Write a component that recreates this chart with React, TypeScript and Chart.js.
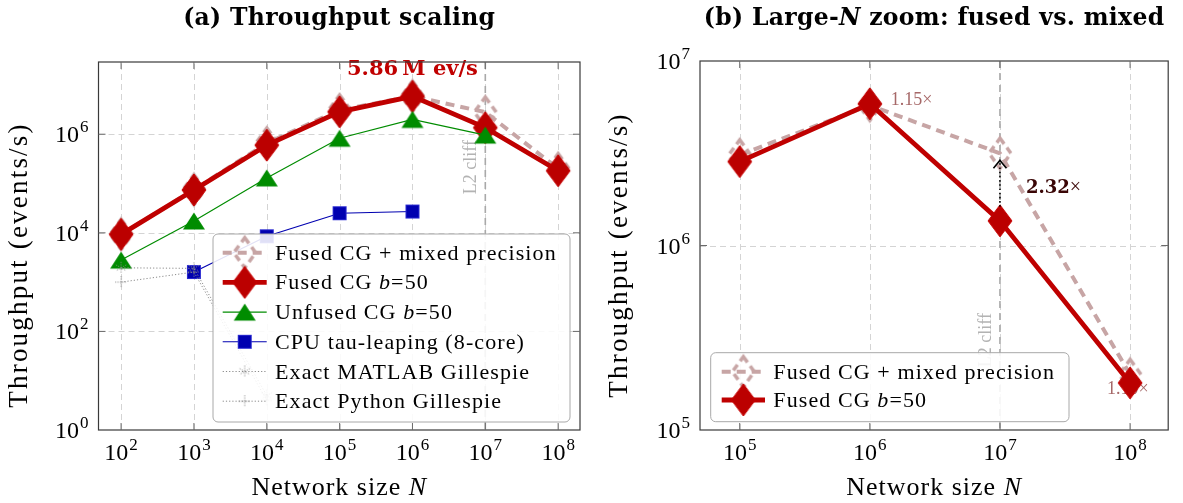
import React, { useEffect, useRef } from "react";
import { Chart, registerables } from "chart.js";
Chart.register(...registerables);

// ---------------- data ----------------
const sizesA = [1e2, 1e3, 1e4, 1e5, 1e6, 1e7, 1e8];
const mixedA = [9.3e3, 7.5e4, 6.6e5, 3.1e6, 5.9e6, 2.8e6, 2.0e5];
const fusedA = [9.3e3, 7.4e4, 6.0e5, 2.85e6, 5.86e6, 1.36e6, 1.82e5];
const unfusedSizes = [1e2, 1e3, 1e4, 1e5, 1e6, 1e7];
const unfusedA = [2.8e3, 1.74e4, 1.3e5, 8.3e5, 2.0e6, 9.6e5];
const cpuSizes = [1e3, 1e4, 1e5, 1e6];
const cpuA = [1.6e3, 8.5e3, 2.5e4, 2.7e4];
const gillSizes = [1e2, 1e3, 1e4];
const matlabA = [1.95e3, 1.9e3, 5];
const pythonA = [1.0e3, 1.6e3, 4];

const sizesB = [1e5, 1e6, 1e7, 1e8];
const mixedB = [3.1e6, 5.75e6, 3.16e6, 2.0e5];
const fusedB = [2.85e6, 5.86e6, 1.36e6, 1.8e5];

const xTickExpA = [2, 3, 4, 5, 6, 7, 8];
const yTickExpA = [0, 2, 4, 6];
const xTickExpB = [5, 6, 7, 8];
const yTickExpB = [5, 6, 7];

const legendLabelsA = [
  "Fused CG + mixed precision",
  "Fused CG b=50",
  "Unfused CG b=50",
  "CPU tau-leaping (8-core)",
  "Exact MATLAB Gillespie",
  "Exact Python Gillespie",
];
const legendLabelsB = ["Fused CG + mixed precision", "Fused CG b=50"];

const peakLabel = "5.86\u2009M ev/s";
const ratioLabels = ["1.15\u00d7", "2.32", "1.10\u00d7"];
const cliffLabel = "L2 cliff";
const cliffN = 1e7;

// ---------------- styles ----------------
const C_MIX = "#c7a5a5";
const C_FUSED = "#bf0000";
const C_GREEN = "#008c00";
const C_BLUE = "#0000b0";
const C_GILL = "#8a8a8a";
const C_RATIO = "#a66868";
const SERIF = '"Liberation Serif", "Times New Roman", serif';
const BOLDF = '"DejaVu Serif", serif';

type Mk = Record<string, HTMLCanvasElement>;

function canvasMk(w: number, h: number, draw: (g: CanvasRenderingContext2D, cx: number, cy: number) => void) {
  const c = document.createElement("canvas");
  c.width = w;
  c.height = h;
  const g = c.getContext("2d")!;
  draw(g, w / 2, h / 2);
  return c;
}

function makeMarkers(): Mk {
  const diamond = (g: CanvasRenderingContext2D, cx: number, cy: number, w: number, h: number) => {
    g.beginPath();
    g.moveTo(cx, cy - h / 2);
    g.lineTo(cx + w / 2, cy);
    g.lineTo(cx, cy + h / 2);
    g.lineTo(cx - w / 2, cy);
    g.closePath();
  };
  return {
    fused: canvasMk(28, 36, (g, cx, cy) => {
      diamond(g, cx, cy, 24, 32);
      g.fillStyle = "#bb0000";
      g.fill();
      g.strokeStyle = "#c80000";
      g.lineWidth = 1;
      g.stroke();
    }),
    mixed: canvasMk(30, 38, (g, cx, cy) => {
      diamond(g, cx, cy, 22, 30);
      g.strokeStyle = C_MIX;
      g.lineWidth = 3.5;
      g.setLineDash([7, 4.5]);
      g.stroke();
    }),
    tri: canvasMk(26, 22, (g, cx, cy) => {
      g.beginPath();
      g.moveTo(cx, cy - 8.5);
      g.lineTo(cx + 11, cy + 8.5);
      g.lineTo(cx - 11, cy + 8.5);
      g.closePath();
      g.fillStyle = C_GREEN;
      g.fill();
    }),
    sq: canvasMk(16, 16, (g, cx, cy) => {
      g.fillStyle = C_BLUE;
      g.fillRect(cx - 6.5, cy - 6.5, 13, 13);
      g.strokeStyle = "#2a2ad0";
      g.lineWidth = 1;
      g.strokeRect(cx - 6.5, cy - 6.5, 13, 13);
    }),
    star: canvasMk(16, 16, (g, cx, cy) => {
      g.strokeStyle = C_GILL;
      g.lineWidth = 0.9;
      g.setLineDash([1.2, 1.2]);
      g.beginPath();
      for (const ang of [90, 30, 150]) {
        const r = 6, t = (ang * Math.PI) / 180;
        g.moveTo(cx - r * Math.cos(t), cy - r * Math.sin(t));
        g.lineTo(cx + r * Math.cos(t), cy + r * Math.sin(t));
      }
      g.stroke();
    }),
    plus: canvasMk(16, 16, (g, cx, cy) => {
      g.strokeStyle = C_GILL;
      g.lineWidth = 0.9;
      g.setLineDash([1.2, 1.2]);
      g.beginPath();
      g.moveTo(cx - 6, cy);
      g.lineTo(cx + 6, cy);
      g.moveTo(cx, cy - 6);
      g.lineTo(cx, cy + 6);
      g.stroke();
    }),
  };
}

// ---------------- drawing helpers ----------------
function setLS(ctx: any, v: number) {
  if ("letterSpacing" in ctx) ctx.letterSpacing = v + "px";
}

type Part = { t: string; f: string };
function drawRich(ctx: CanvasRenderingContext2D, parts: Part[], x: number, y: number, align: string, ls = 0) {
  let total = 0;
  const ws = parts.map((p) => {
    ctx.font = p.f;
    setLS(ctx, ls);
    const w = ctx.measureText(p.t).width;
    total += w;
    return w;
  });
  let cx = align === "left" ? x : align === "center" ? x - total / 2 : x - total;
  ctx.textAlign = "left";
  parts.forEach((p, i) => {
    ctx.font = p.f;
    setLS(ctx, ls);
    ctx.fillText(p.t, cx, y);
    cx += ws[i];
  });
  setLS(ctx, 0);
}

function labelParts(label: string, size: number): Part[] {
  const i = label.indexOf(" b=");
  if (i < 0) return [{ t: label, f: `${size}px ${SERIF}` }];
  return [
    { t: label.slice(0, i + 1), f: `${size}px ${SERIF}` },
    { t: "b", f: `italic ${size}px ${SERIF}` },
    { t: label.slice(i + 2), f: `${size}px ${SERIF}` },
  ];
}

function drawPow(ctx: CanvasRenderingContext2D, x: number, y: number, exp: number, align: string) {
  ctx.font = `24px ${SERIF}`;
  const w1 = ctx.measureText("10").width;
  ctx.font = `17px ${SERIF}`;
  const w2 = ctx.measureText(String(exp)).width;
  const total = w1 + w2 + 1;
  const sx = align === "center" ? x - total / 2 : x - total;
  ctx.textAlign = "left";
  ctx.fillStyle = "#000";
  ctx.font = `24px ${SERIF}`;
  ctx.fillText("10", sx, y);
  ctx.font = `17px ${SERIF}`;
  ctx.fillText(String(exp), sx + w1 + 1, y - 10);
}

function line(ctx: CanvasRenderingContext2D, x1: number, y1: number, x2: number, y2: number) {
  ctx.beginPath();
  ctx.moveTo(x1, y1);
  ctx.lineTo(x2, y2);
  ctx.stroke();
}

type LegendEntry = { label: string; color: string; width: number; dash: number[]; mk: HTMLCanvasElement };
type LegendCfg = { x: number; y: number; w: number; h: number; y0: number; dy: number; lx1: number; lx2: number; tx: number; entries: LegendEntry[] };

function drawLegend(ctx: CanvasRenderingContext2D, L: LegendCfg) {
  ctx.save();
  const r = 5;
  ctx.beginPath();
  ctx.moveTo(L.x + r, L.y);
  ctx.arcTo(L.x + L.w, L.y, L.x + L.w, L.y + L.h, r);
  ctx.arcTo(L.x + L.w, L.y + L.h, L.x, L.y + L.h, r);
  ctx.arcTo(L.x, L.y + L.h, L.x, L.y, r);
  ctx.arcTo(L.x, L.y, L.x + L.w, L.y, r);
  ctx.closePath();
  ctx.fillStyle = "rgba(255,255,255,0.88)";
  ctx.fill();
  ctx.strokeStyle = "#a8a8a8";
  ctx.lineWidth = 1;
  ctx.setLineDash([]);
  ctx.stroke();
  L.entries.forEach((e, i) => {
    const y = L.y0 + i * L.dy;
    ctx.strokeStyle = e.color;
    ctx.lineWidth = e.width;
    ctx.setLineDash(e.dash);
    line(ctx, L.lx1, y, L.lx2, y);
    ctx.setLineDash([]);
    const cx = (L.lx1 + L.lx2) / 2;
    ctx.drawImage(e.mk, cx - e.mk.width / 2, y - e.mk.height / 2);
    ctx.fillStyle = "#000";
    drawRich(ctx, labelParts(e.label, 22), L.tx, y + 7, "left", 1.1);
  });
  ctx.restore();
}

type PanelCfg = {
  id: string;
  xTicks: number[];
  yTicks: number[];
  title: Part[];
  ylabel: { x: number; y: number };
  legend: LegendCfg;
  cliffText: { dx: number; top: number };
  under?: (chart: any) => void;
  over?: (chart: any) => void;
};

function panelPlugin(p: PanelCfg) {
  return {
    id: "panel_" + p.id,
    beforeDatasetsDraw(chart: any) {
      const { ctx, chartArea: a } = chart;
      const x = chart.scales.x, y = chart.scales.y;
      ctx.save();
      ctx.strokeStyle = "#d4d4d4";
      ctx.lineWidth = 1;
      ctx.setLineDash([6, 4]);
      p.xTicks.forEach((e) => {
        const px = Math.round(x.getPixelForValue(10 ** e)) + 0.5;
        line(ctx, px, a.bottom, px, a.top);
      });
      p.yTicks.forEach((e) => {
        const py = Math.round(y.getPixelForValue(10 ** e)) + 0.5;
        if (py > a.top + 1 && py < a.bottom - 1) line(ctx, a.left, py, a.right, py);
      });
      // L2 cliff marker line
      const cx = x.getPixelForValue(cliffN);
      ctx.strokeStyle = "#a9a9a9";
      ctx.lineWidth = 1.6;
      ctx.setLineDash([7, 5]);
      line(ctx, cx, a.top, cx, a.bottom);
      ctx.setLineDash([]);
      // L2 cliff text
      ctx.save();
      ctx.translate(cx + p.cliffText.dx, p.cliffText.top);
      ctx.rotate(-Math.PI / 2);
      ctx.fillStyle = "#b3b3b3";
      ctx.font = `18px ${SERIF}`;
      ctx.textAlign = "right";
      ctx.textBaseline = "alphabetic";
      ctx.fillText(cliffLabel, 0, 0);
      ctx.restore();
      if (p.under) p.under(chart);
      ctx.restore();
    },
    afterDatasetsDraw(chart: any) {
      const { ctx, chartArea: a } = chart;
      const x = chart.scales.x, y = chart.scales.y;
      ctx.save();
      if (p.over) p.over(chart);
      // legend
      drawLegend(ctx, p.legend);
      // frame
      ctx.setLineDash([]);
      ctx.strokeStyle = "#3a3a3a";
      ctx.lineWidth = 1.2;
      ctx.strokeRect(a.left, a.top, a.right - a.left, a.bottom - a.top);
      // ticks
      ctx.strokeStyle = "#6a6a6a";
      ctx.lineWidth = 1;
      p.xTicks.forEach((e) => {
        const px = x.getPixelForValue(10 ** e);
        line(ctx, px, a.bottom, px, a.bottom - 7);
        line(ctx, px, a.top, px, a.top + 7);
        drawPow(ctx, px, 460, e, "center");
      });
      p.yTicks.forEach((e) => {
        const py = y.getPixelForValue(10 ** e);
        if (py > a.top + 1 && py < a.bottom - 1) {
          line(ctx, a.left, py, a.left + 7, py);
          line(ctx, a.right, py, a.right - 7, py);
        }
        drawPow(ctx, a.left - 10, py + 8, e, "right");
      });
      // axis labels
      ctx.fillStyle = "#000";
      drawRich(
        ctx,
        [
          { t: "Network size ", f: `26px ${SERIF}` },
          { t: "N", f: `italic 26px ${SERIF}` },
        ],
        (a.left + a.right) / 2,
        495,
        "center",
        1
      );
      ctx.save();
      ctx.translate(p.ylabel.x, p.ylabel.y);
      ctx.rotate(-Math.PI / 2);
      drawRich(ctx, [{ t: "Throughput (events/s)", f: `27px ${SERIF}` }], 0, 0, "center", 2.2);
      ctx.restore();
      // title
      drawRich(ctx, p.title, (a.left + a.right) / 2, 25, "center", 0.3);
      ctx.restore();
    },
  };
}

function ds(label: string, xs: number[], ys: number[], o: any) {
  return {
    label,
    data: xs.map((v, i) => ({ x: v, y: ys[i] })),
    borderColor: o.color,
    backgroundColor: o.color,
    borderWidth: o.width,
    borderDash: o.dash || [],
    pointStyle: o.mk,
    pointRadius: 10,
    pointHoverRadius: 10,
    tension: 0,
    clip: false,
    fill: false,
    order: o.order,
  };
}

function baseOptions(pad: any, xr: number[], yr: number[]) {
  return {
    animation: false,
    responsive: false,
    maintainAspectRatio: false,
    layout: { padding: pad },
    events: [],
    scales: {
      x: { type: "logarithmic", min: xr[0], max: xr[1], display: false },
      y: { type: "logarithmic", min: yr[0], max: yr[1], display: false },
    },
    plugins: { legend: { display: false }, tooltip: { enabled: false }, title: { display: false } },
  };
}

export default function App() {
  const refA = useRef<HTMLCanvasElement>(null);
  const refB = useRef<HTMLCanvasElement>(null);

  useEffect(() => {
    const m = makeMarkers();
    const stMix = { color: C_MIX, width: 4, dash: [9, 6], mk: m.mixed };
    const stFused = { color: C_FUSED, width: 4.8, dash: [], mk: m.fused };
    const stUnf = { color: C_GREEN, width: 1.2, dash: [], mk: m.tri };
    const stCpu = { color: C_BLUE, width: 1.1, dash: [], mk: m.sq };
    const stMat = { color: C_GILL, width: 1, dash: [1.2, 2], mk: m.star };
    const stPy = { color: C_GILL, width: 1, dash: [1.2, 2], mk: m.plus };

    const boldT = `bold 23.5px ${BOLDF}`;

    const cfgA: PanelCfg = {
      id: "a",
      xTicks: xTickExpA,
      yTicks: yTickExpA,
      title: [{ t: "(a) Throughput scaling", f: boldT }],
      ylabel: { x: 27, y: 265 },
      cliffText: { dx: -9, top: 140 },
      legend: {
        x: 213, y: 234, w: 357, h: 188, y0: 252.7, dy: 29.7, lx1: 222.7, lx2: 266.7, tx: 275,
        entries: [stMix, stFused, stUnf, stCpu, stMat, stPy].map((s, i) => ({ ...s, label: legendLabelsA[i] })),
      },
      over: (chart: any) => {
        const { ctx } = chart;
        const px = chart.scales.x.getPixelForValue(sizesA[4]);
        const py = chart.scales.y.getPixelForValue(fusedA[4]);
        ctx.fillStyle = "#c00000";
        drawRich(ctx, [{ t: peakLabel, f: `bold 21px ${BOLDF}` }], px, py - 21, "center", 0);
      },
    };

    const cfgB: PanelCfg = {
      id: "b",
      xTicks: xTickExpB,
      yTicks: yTickExpB,
      title: [
        { t: "(b) Large-", f: boldT },
        { t: "N", f: `bold italic 23.5px ${BOLDF}` },
        { t: " zoom: fused vs. mixed", f: boldT },
      ],
      ylabel: { x: 27, y: 255 },
      cliffText: { dx: -9, top: 313 },
      legend: {
        x: 110.7, y: 352.7, w: 358.3, h: 69, y0: 371.7, dy: 28.3, lx1: 121.7, lx2: 165, tx: 173.3,
        entries: [stMix, stFused].map((s, i) => ({ ...s, label: legendLabelsB[i] })),
      },
      under: (chart: any) => {
        const { ctx } = chart;
        const x = chart.scales.x, y = chart.scales.y;
        ctx.fillStyle = C_RATIO;
        drawRich(ctx, [{ t: ratioLabels[2], f: `18px ${SERIF}` }], x.getPixelForValue(sizesB[3]) - 23, y.getPixelForValue(fusedB[3]) + 11, "left", 0);
      },
      over: (chart: any) => {
        const { ctx } = chart;
        const x = chart.scales.x, y = chart.scales.y;
        ctx.fillStyle = C_RATIO;
        drawRich(ctx, [{ t: ratioLabels[0], f: `18px ${SERIF}` }], x.getPixelForValue(sizesB[1]) + 21, y.getPixelForValue(fusedB[1]) + 1, "left", 0);
        // ratio arrow at the L2 cliff
        const ax = x.getPixelForValue(sizesB[2]);
        const yFrom = y.getPixelForValue(fusedB[2]) - 14;
        const yTip = y.getPixelForValue(mixedB[2]) + 7;
        ctx.strokeStyle = "#000";
        ctx.lineWidth = 1.6;
        ctx.setLineDash([1.6, 2.6]);
        line(ctx, ax, yFrom, ax, yTip + 2);
        ctx.setLineDash([]);
        ctx.beginPath();
        ctx.moveTo(ax - 6.5, yTip + 8);
        ctx.quadraticCurveTo(ax - 1.5, yTip + 2, ax, yTip);
        ctx.quadraticCurveTo(ax + 1.5, yTip + 2, ax + 6.5, yTip + 8);
        ctx.stroke();
        const my = (yFrom + yTip) / 2 + 9;
        ctx.fillStyle = "#3a0606";
        ctx.font = `bold 18px ${BOLDF}`;
        ctx.textAlign = "left";
        ctx.fillText(ratioLabels[1], ax + 26, my);
        const w = ctx.measureText(ratioLabels[1]).width;
        ctx.font = `20px ${SERIF}`;
        ctx.fillText("\u00d7", ax + 26 + w, my);
      },
    };

    const chartA = new Chart(refA.current!, {
      type: "line",
      data: {
        datasets: [
          ds(legendLabelsA[0], sizesA, mixedA, { ...stMix, order: 6 }),
          ds(legendLabelsA[1], sizesA, fusedA, { ...stFused, order: 5 }),
          ds(legendLabelsA[2], unfusedSizes, unfusedA, { ...stUnf, order: 4 }),
          ds(legendLabelsA[3], cpuSizes, cpuA, { ...stCpu, order: 3 }),
          ds(legendLabelsA[4], gillSizes, matlabA, { ...stMat, order: 2 }),
          ds(legendLabelsA[5], gillSizes, pythonA, { ...stPy, order: 1 }),
        ],
      },
      options: baseOptions({ left: 98.5, right: 20, top: 62, bottom: 73 }, [10 ** 1.69, 10 ** 8.3], [1, 10 ** 7.465]) as any,
      plugins: [panelPlugin(cfgA)],
    } as any);

    const chartB = new Chart(refB.current!, {
      type: "line",
      data: {
        datasets: [
          ds(legendLabelsB[0], sizesB, mixedB, { ...stMix, order: 2 }),
          ds(legendLabelsB[1], sizesB, fusedB, { ...stFused, order: 1 }),
        ],
      },
      options: baseOptions({ left: 100, right: 3, top: 61, bottom: 73 }, [10 ** 4.695, 10 ** 8.293], [1e5, 1e7]) as any,
      plugins: [panelPlugin(cfgB)],
    } as any);

    return () => {
      chartA.destroy();
      chartB.destroy();
    };
  }, []);

  return (
    <div style={{ position: "absolute", left: 0, top: 0, width: 1183, height: 503, background: "#fff", overflow: "hidden" }}>
      <canvas ref={refA} width={600} height={503} style={{ position: "absolute", left: 0, top: 0, width: 600, height: 503, display: "block" }} />
      <canvas ref={refB} width={583} height={503} style={{ position: "absolute", left: 600, top: 0, width: 583, height: 503, display: "block" }} />
    </div>
  );
}
